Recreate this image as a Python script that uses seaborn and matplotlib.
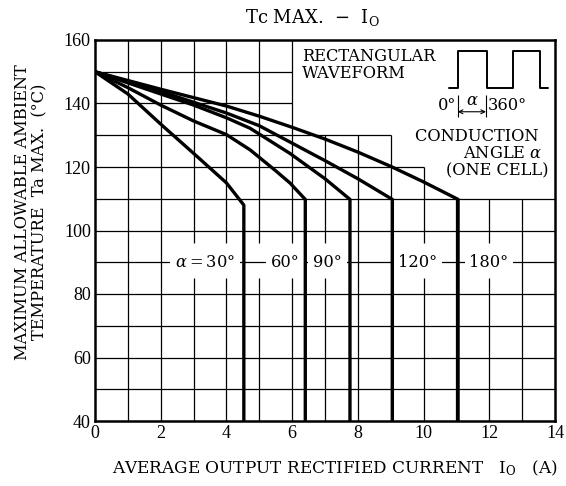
import pandas as pd
import seaborn as sns
import matplotlib.pyplot as plt

# derating curves: Ta max vs average output current, one per conduction angle
angles = ['30', '60', '90', '120', '180']
x_30 = [0, 1, 2, 3, 4, 4.53]
y_30 = [150, 143, 133.5, 124.3, 115, 108]
x_60 = [0, 1, 2, 3, 4, 4.72, 5.5, 5.93, 6.4]
y_60 = [150, 145, 139.5, 134.5, 130.2, 125.4, 118.8, 115, 109.8]
x_90 = [0, 1, 2, 3, 4, 4.72, 5.93, 7, 7.76]
y_90 = [150, 146.5, 143, 139.5, 135.5, 132.2, 124.3, 116.3, 109.8]
x_120 = [0, 2, 4, 5, 6, 7, 8, 9.05]
y_120 = [150, 143.8, 137, 133, 127.5, 122, 116.3, 109.8]
x_180 = [0, 2, 4, 5, 6, 7, 8, 9, 10, 11.05]
y_180 = [150, 144.5, 139.2, 136, 132.5, 128.8, 124.7, 120.2, 115.3, 109.8]
# each curve drops vertically to the bottom of the chart at its last current
y_floor = 40

label_x = [3.35, 5.78, 7.08, 9.81, 11.99]
label_y = 90

# small rectangular waveform sketch in the corner
wave_x = [10.78, 11.06, 11.06, 11.92, 11.92, 12.71, 12.71, 13.54, 13.54, 13.8]
wave_y = [144.8, 144.8, 156.6, 156.6, 144.8, 144.8, 156.6, 156.6, 144.8, 144.8]

curves = {'30': (x_30, y_30), '60': (x_60, y_60), '90': (x_90, y_90),
          '120': (x_120, y_120), '180': (x_180, y_180)}
rows = []
for a in angles:
    xs, ys = curves[a]
    for i, (x, y) in enumerate(zip(xs, ys)):
        rows.append({'angle': a, 'order': i, 'Io': x, 'Ta': y})
    rows.append({'angle': a, 'order': len(xs), 'Io': xs[-1], 'Ta': y_floor})
df = pd.DataFrame(rows)

sns.set_theme(style='white')
plt.rcParams['font.family'] = ['DejaVu Serif']
plt.rcParams['mathtext.fontset'] = 'dejavuserif'
plt.rcParams['text.color'] = 'black'
plt.rcParams['axes.labelcolor'] = 'black'

fs = 11.7
fig = plt.figure(figsize=(5.66, 4.86), dpi=100)
ax = fig.add_axes([95/566, 65/486, 460/566, 381/486])

# grid drawn by hand: it is cut away behind the corner legend and the label row
vtop = {1: 160, 2: 160, 3: 160, 4: 160, 5: 160, 6: 160, 7: 130, 8: 130, 9: 130,
        10: 120, 11: 110, 12: 110, 13: 110}
broken = [3, 4, 5, 6, 7, 10, 12]
for x, top in vtop.items():
    if x in broken:
        ax.vlines(x, 40, 85, color='black', lw=0.9, zorder=1)
        ax.vlines(x, 96, top, color='black', lw=0.9, zorder=1)
    else:
        ax.vlines(x, 40, top, color='black', lw=0.9, zorder=1)
hright = {50: 14, 60: 14, 70: 14, 80: 14, 90: 14, 100: 14, 110: 14,
          120: 10, 130: 9, 140: 6, 150: 6}
for y, right in hright.items():
    ax.hlines(y, 0, right, color='black', lw=0.9, zorder=1)

sns.lineplot(data=df, x='Io', y='Ta', units='angle', estimator=None, sort=False,
             color='black', lw=2.4, ax=ax, zorder=3)

for i, a in enumerate(angles):
    txt = r'$\alpha = $' + a + '°' if i == 0 else a + '°'
    ax.text(label_x[i], label_y, txt, ha='center', va='center', fontsize=fs,
            bbox=dict(boxstyle='square,pad=0.3', fc='white', ec='none'), zorder=2)

ax.plot(wave_x, wave_y, color='black', lw=1.4, zorder=3)
ax.vlines([11.04, 11.9], 135.7, 142.7, color='black', lw=0.8)
ax.annotate('', xy=(11.9, 137.4), xytext=(11.04, 137.4),
            arrowprops=dict(arrowstyle='<->', lw=0.8, color='black',
                            shrinkA=0, shrinkB=0, mutation_scale=7))
ax.text(10.98, 139.3, '0°', ha='right', va='center', fontsize=fs)
ax.text(11.47, 140.8, r'$\alpha$', ha='center', va='center', fontsize=fs)
ax.text(11.95, 139.3, '360°', ha='left', va='center', fontsize=fs)
ax.text(6.3, 157.4, 'RECTANGULAR\nWAVEFORM', ha='left', va='top', fontsize=fs,
        linespacing=0.95)
ax.text(13.8, 132.3, 'CONDUCTION  \nANGLE $\\alpha$  \n(ONE CELL)', ha='right',
        va='top', fontsize=fs, linespacing=1.0, multialignment='right')

ax.set_xlim(0, 14)
ax.set_ylim(40, 160)
ax.set_xticks(range(0, 15, 2))
ax.set_yticks(range(40, 161, 20))
ax.tick_params(length=0, labelsize=fs, pad=3, colors='black')
for lab in ax.get_xticklabels() + ax.get_yticklabels():
    lab.set_family('Liberation Serif')
    lab.set_fontsize(13)
for s in ax.spines.values():
    s.set_linewidth(1.8)
    s.set_color('black')
ax.set_xlabel('')
ax.set_ylabel('')

fig.text(312/566, 1 - 17/486, r'Tc MAX.  $-$  I$_\mathrm{O}$', ha='center',
         va='center', fontsize=13)
fig.text(335/566, 1 - 468/486,
         r'AVERAGE OUTPUT RECTIFIED CURRENT   I$_\mathrm{O}$   (A)',
         ha='center', va='center', fontsize=12.2)
fig.text(31/566, 1 - 212/486,
         'MAXIMUM ALLOWABLE AMBIENT\nTEMPERATURE  Ta MAX.  (°C)',
         ha='center', va='center', rotation=90, fontsize=fs, linespacing=1.05)

fig.savefig('out.png', dpi=100)
